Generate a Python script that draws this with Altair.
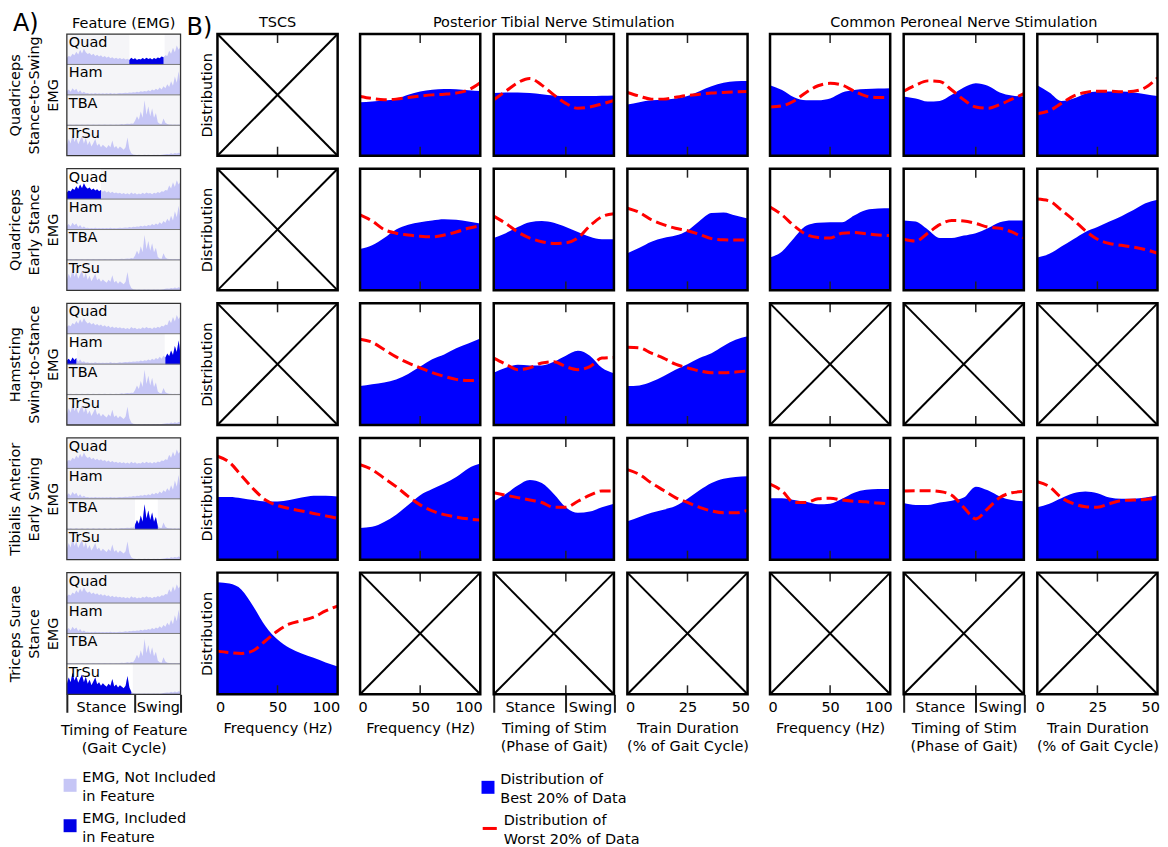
import altair as alt
import pandas as pd

FONT = "DejaVu Sans"
FS = 14.5
BLUE = "#0000ff"
RED = "#ff0000"
EMG_LIGHT = "#c6c6f6"
EMG_DARK = "#0000e6"
EMG_BG = "#f5f5f8"

B_W, B_H = 120.5, 122
EMG_W, EMG_H = 114, 122

# ---------------- data ----------------
X_GRID = [0.0, 0.1, 0.2, 0.3, 0.4, 0.5, 0.6, 0.7, 0.8, 0.9, 1.0]

BEST_R1_C2 = [0.44, 0.446, 0.454, 0.465, 0.50, 0.527, 0.543, 0.548, 0.546, 0.538, 0.532]
WORST_R1_C2 = [0.487, 0.47, 0.46, 0.465, 0.478, 0.49, 0.50, 0.505, 0.515, 0.54, 0.60]
BEST_R1_C3 = [0.515, 0.52, 0.52, 0.515, 0.505, 0.495, 0.49, 0.49, 0.49, 0.492, 0.495]
WORST_R1_C3 = [0.46, 0.53, 0.60, 0.635, 0.58, 0.50, 0.43, 0.39, 0.40, 0.425, 0.455]
BEST_R1_C4 = [0.42, 0.44, 0.455, 0.46, 0.47, 0.49, 0.53, 0.57, 0.60, 0.612, 0.615]
WORST_R1_C4 = [0.52, 0.49, 0.465, 0.465, 0.48, 0.495, 0.505, 0.515, 0.52, 0.525, 0.527]
BEST_R1_C5 = [0.58, 0.54, 0.48, 0.455, 0.455, 0.47, 0.52, 0.54, 0.548, 0.552, 0.555]
WORST_R1_C5 = [0.40, 0.41, 0.45, 0.52, 0.575, 0.595, 0.58, 0.53, 0.49, 0.478, 0.478]
BEST_R1_C6 = [0.487, 0.47, 0.445, 0.45, 0.50, 0.56, 0.595, 0.575, 0.52, 0.495, 0.487]
WORST_R1_C6 = [0.53, 0.58, 0.615, 0.61, 0.54, 0.46, 0.40, 0.39, 0.42, 0.465, 0.51]
BEST_R1_C7 = [0.58, 0.52, 0.45, 0.47, 0.51, 0.527, 0.527, 0.527, 0.52, 0.505, 0.49]
WORST_R1_C7 = [0.345, 0.37, 0.43, 0.49, 0.52, 0.53, 0.53, 0.525, 0.53, 0.56, 0.64]

BEST_R2_C2 = [0.34, 0.37, 0.43, 0.50, 0.54, 0.56, 0.575, 0.585, 0.58, 0.565, 0.55]
WORST_R2_C2 = [0.62, 0.57, 0.50, 0.47, 0.455, 0.445, 0.44, 0.455, 0.48, 0.51, 0.53]
BEST_R2_C3 = [0.43, 0.47, 0.52, 0.56, 0.57, 0.555, 0.52, 0.48, 0.44, 0.42, 0.42]
WORST_R2_C3 = [0.61, 0.55, 0.48, 0.43, 0.40, 0.385, 0.39, 0.43, 0.53, 0.605, 0.63]
BEST_R2_C4 = [0.305, 0.35, 0.40, 0.43, 0.45, 0.49, 0.57, 0.635, 0.64, 0.615, 0.59]
WORST_R2_C4 = [0.675, 0.64, 0.58, 0.54, 0.51, 0.49, 0.46, 0.425, 0.415, 0.413, 0.413]
BEST_R2_C5 = [0.27, 0.32, 0.43, 0.53, 0.555, 0.56, 0.56, 0.615, 0.66, 0.672, 0.675]
WORST_R2_C5 = [0.685, 0.62, 0.53, 0.46, 0.435, 0.43, 0.47, 0.475, 0.465, 0.455, 0.45]
BEST_R2_C6 = [0.575, 0.565, 0.50, 0.43, 0.43, 0.45, 0.47, 0.51, 0.56, 0.575, 0.575]
WORST_R2_C6 = [0.42, 0.405, 0.47, 0.54, 0.575, 0.57, 0.55, 0.52, 0.51, 0.48, 0.43]
BEST_R2_C7 = [0.27, 0.30, 0.36, 0.42, 0.48, 0.52, 0.565, 0.61, 0.66, 0.715, 0.745]
WORST_R2_C7 = [0.75, 0.735, 0.66, 0.58, 0.49, 0.42, 0.385, 0.37, 0.355, 0.335, 0.305]

BEST_R3_C2 = [0.32, 0.335, 0.35, 0.375, 0.42, 0.48, 0.54, 0.58, 0.63, 0.67, 0.71]
WORST_R3_C2 = [0.705, 0.68, 0.62, 0.56, 0.51, 0.47, 0.43, 0.40, 0.375, 0.365, 0.365]
BEST_R3_C3 = [0.43, 0.47, 0.495, 0.49, 0.49, 0.52, 0.57, 0.61, 0.57, 0.47, 0.425]
WORST_R3_C3 = [0.55, 0.50, 0.455, 0.47, 0.51, 0.52, 0.48, 0.455, 0.48, 0.55, 0.555]
BEST_R3_C4 = [0.32, 0.325, 0.355, 0.40, 0.455, 0.50, 0.55, 0.59, 0.65, 0.70, 0.73]
WORST_R3_C4 = [0.64, 0.635, 0.59, 0.55, 0.50, 0.47, 0.445, 0.43, 0.43, 0.435, 0.445]

BEST_R4_C1 = [0.515, 0.515, 0.505, 0.49, 0.478, 0.478, 0.49, 0.51, 0.525, 0.525, 0.52]
WORST_R4_C1 = [0.85, 0.80, 0.69, 0.58, 0.49, 0.445, 0.42, 0.40, 0.38, 0.36, 0.34]
BEST_R4_C2 = [0.26, 0.27, 0.31, 0.37, 0.45, 0.53, 0.58, 0.625, 0.68, 0.75, 0.79]
WORST_R4_C2 = [0.78, 0.74, 0.67, 0.60, 0.52, 0.45, 0.40, 0.37, 0.35, 0.335, 0.325]
BEST_R4_C3 = [0.48, 0.54, 0.61, 0.655, 0.63, 0.54, 0.43, 0.385, 0.395, 0.43, 0.46]
WORST_R4_C3 = [0.55, 0.53, 0.51, 0.49, 0.47, 0.43, 0.43, 0.48, 0.53, 0.565, 0.565]
BEST_R4_C4 = [0.315, 0.35, 0.385, 0.41, 0.44, 0.50, 0.57, 0.63, 0.665, 0.68, 0.685]
WORST_R4_C4 = [0.74, 0.70, 0.63, 0.57, 0.51, 0.47, 0.43, 0.40, 0.385, 0.385, 0.405]
BEST_R4_C5 = [0.505, 0.505, 0.49, 0.475, 0.455, 0.46, 0.50, 0.55, 0.575, 0.58, 0.58]
WORST_R4_C5 = [0.62, 0.565, 0.47, 0.47, 0.50, 0.505, 0.49, 0.48, 0.475, 0.465, 0.46]
BEST_R4_C6 = [0.465, 0.45, 0.45, 0.47, 0.485, 0.51, 0.60, 0.57, 0.52, 0.49, 0.48]
WORST_R4_C6 = [0.565, 0.567, 0.567, 0.56, 0.53, 0.43, 0.335, 0.42, 0.51, 0.55, 0.56]
BEST_R4_C7 = [0.43, 0.46, 0.505, 0.545, 0.56, 0.545, 0.51, 0.50, 0.50, 0.51, 0.53]
WORST_R4_C7 = [0.64, 0.60, 0.51, 0.46, 0.435, 0.43, 0.46, 0.485, 0.49, 0.495, 0.505]

BEST_R5_C1 = [0.92, 0.91, 0.86, 0.72, 0.56, 0.45, 0.38, 0.335, 0.30, 0.262, 0.228]
WORST_R5_C1 = [0.355, 0.343, 0.336, 0.36, 0.44, 0.52, 0.578, 0.605, 0.635, 0.685, 0.725]

# EMG envelopes (fraction of strip height), sampled evenly across the gait cycle
QUAD = [0.22, 0.28, 0.25, 0.35, 0.30, 0.42, 0.33, 0.48, 0.36, 0.52, 0.40,
        0.34, 0.38, 0.30, 0.35, 0.28, 0.32, 0.26, 0.30, 0.24, 0.28,
        0.22, 0.26, 0.20, 0.24, 0.19, 0.22, 0.18, 0.21, 0.17, 0.20,
        0.16, 0.19, 0.15, 0.22, 0.17, 0.20, 0.15, 0.18, 0.16, 0.21,
        0.17, 0.22, 0.18, 0.20, 0.16, 0.21, 0.18, 0.23, 0.20, 0.26,
        0.24, 0.30, 0.28, 0.45, 0.35, 0.55, 0.40, 0.62, 0.48, 0.58]
HAM = [0.12, 0.18, 0.10, 0.22, 0.14, 0.20, 0.08, 0.15, 0.06, 0.10, 0.05,
       0.06, 0.04, 0.05, 0.04, 0.06, 0.04, 0.05, 0.04, 0.05, 0.04,
       0.05, 0.04, 0.06, 0.04, 0.05, 0.04, 0.05, 0.06, 0.05, 0.06,
       0.07, 0.06, 0.08, 0.07, 0.09, 0.08, 0.10, 0.09, 0.12, 0.10,
       0.13, 0.11, 0.15, 0.12, 0.18, 0.14, 0.20, 0.16, 0.24, 0.18,
       0.28, 0.22, 0.35, 0.26, 0.45, 0.30, 0.60, 0.40, 0.78, 0.30]
TBA = [0.03, 0.02, 0.03, 0.02, 0.02, 0.03, 0.02, 0.02, 0.03, 0.02, 0.02,
       0.03, 0.02, 0.02, 0.03, 0.02, 0.02, 0.03, 0.02, 0.02, 0.03,
       0.02, 0.02, 0.03, 0.02, 0.02, 0.03, 0.02, 0.03, 0.04, 0.03,
       0.04, 0.05, 0.04, 0.06, 0.05, 0.15, 0.30, 0.18, 0.45, 0.25,
       0.82, 0.35, 0.62, 0.30, 0.55, 0.25, 0.40, 0.10, 0.05, 0.04,
       0.22, 0.08, 0.04, 0.03, 0.03, 0.02, 0.03, 0.02, 0.03, 0.02]
TRSU = [0.35, 0.55, 0.40, 0.72, 0.45, 0.60, 0.38, 0.52, 0.65, 0.40, 0.58,
        0.35, 0.48, 0.30, 0.42, 0.55, 0.33, 0.40, 0.28, 0.36, 0.30,
        0.25, 0.35, 0.28, 0.50, 0.26, 0.32, 0.22, 0.30, 0.25, 0.20,
        0.28, 0.60, 0.22, 0.08, 0.04, 0.03, 0.02, 0.03, 0.02, 0.02,
        0.03, 0.02, 0.03, 0.02, 0.02, 0.03, 0.02, 0.03, 0.02, 0.03,
        0.04, 0.05, 0.06, 0.05, 0.08, 0.06, 0.09, 0.07, 0.10, 0.08]
MUSCLES = ["Quad", "Ham", "TBA", "TrSu"]
SIGNALS = [QUAD, HAM, TBA, TRSU]

ROW_LABELS = [["Quadriceps", "Stance-to-Swing", "EMG"],
              ["Quadriceps", "Early Stance", "EMG"],
              ["Hamstring", "Swing-to-Stance", "EMG"],
              ["Tibialis Anterior", "Early Swing", "EMG"],
              ["Triceps Surae", "Stance", "EMG"]]
HIGHLIGHTS = [[("Quad", 0.55, 0.86)],
              [("Quad", 0.0, 0.30)],
              [("Ham", 0.0, 0.09), ("Ham", 0.86, 1.0)],
              [("TBA", 0.60, 0.80)],
              [("TrSu", 0.0, 0.58)]]

COL_KIND = ["freq", "freq", "timing", "dur", "freq", "timing", "dur"]
XMAX = {"freq": 100, "timing": 1.0, "dur": 50}
XMID = {"freq": 50, "timing": 0.6, "dur": 25}
X_TITLES = {"freq": "Frequency (Hz)",
            "timing": ["Timing of Stim", "(Phase of Gait)"],
            "dur": ["Train Duration", "(% of Gait Cycle)"]}
X_VALUES = {"freq": [0, 50, 100], "dur": [0, 25, 50]}
GAIT_VALUES = [0, 0.3, 0.6, 0.8, 1.0]
TOP_TITLES = {0: "TSCS", 2: "Posterior Tibial Nerve Stimulation",
              5: "Common Peroneal Nerve Stimulation"}

PANELS = {
    (0, 1): (BEST_R1_C2, WORST_R1_C2), (0, 2): (BEST_R1_C3, WORST_R1_C3),
    (0, 3): (BEST_R1_C4, WORST_R1_C4), (0, 4): (BEST_R1_C5, WORST_R1_C5),
    (0, 5): (BEST_R1_C6, WORST_R1_C6), (0, 6): (BEST_R1_C7, WORST_R1_C7),
    (1, 1): (BEST_R2_C2, WORST_R2_C2), (1, 2): (BEST_R2_C3, WORST_R2_C3),
    (1, 3): (BEST_R2_C4, WORST_R2_C4), (1, 4): (BEST_R2_C5, WORST_R2_C5),
    (1, 5): (BEST_R2_C6, WORST_R2_C6), (1, 6): (BEST_R2_C7, WORST_R2_C7),
    (2, 1): (BEST_R3_C2, WORST_R3_C2), (2, 2): (BEST_R3_C3, WORST_R3_C3),
    (2, 3): (BEST_R3_C4, WORST_R3_C4),
    (3, 0): (BEST_R4_C1, WORST_R4_C1), (3, 1): (BEST_R4_C2, WORST_R4_C2),
    (3, 2): (BEST_R4_C3, WORST_R4_C3), (3, 3): (BEST_R4_C4, WORST_R4_C4),
    (3, 4): (BEST_R4_C5, WORST_R4_C5), (3, 5): (BEST_R4_C6, WORST_R4_C6),
    (3, 6): (BEST_R4_C7, WORST_R4_C7),
    (4, 0): (BEST_R5_C1, WORST_R5_C1),
}

EMG_LEG_LABELS = ["EMG, Not Included|in Feature", "EMG, Included|in Feature"]
BEST_LABEL = "Distribution of|Best 20% of Data"
WORST_LABEL = "Distribution of|Worst 20% of Data"

# gaps (px) between plot areas: after EMG, after TSCS, within groups, between groups
GAPS = [37, 22, 13, 13, 22, 13, 13]

TITLE_KW = dict(baseline="bottom", offset=4, dy=16, fontSize=FS, fontWeight="normal", font=FONT)


def gait_axis(title, title_y):
    return alt.Axis(
        values=GAIT_VALUES,
        labelExpr="datum.value == 0.3 ? 'Stance' : (datum.value == 0.8 ? 'Swing' : '')",
        tickColor={"condition": {"test": "datum.value == 0.3 || datum.value == 0.8",
                                 "value": "transparent"}, "value": "#222222"},
        tickSize=18, tickWidth=2, domain=False, grid=False,
        labelPadding=-12, labelFlush=False, labelOverlap=False,
        labelFontSize=FS, labelColor="black",
        title=title, titleY=title_y, titleBaseline="top", titleLineHeight=18.5,
        titleFontSize=FS, titleFontWeight="normal", titleColor="black")


def num_axis(kind):
    return alt.Axis(
        values=X_VALUES[kind], format="d", ticks=False, domain=False, grid=False,
        labelPadding=6, labelFlush=True, labelFlushOffset=2, labelOverlap=False,
        labelFontSize=FS, labelColor="black",
        title=X_TITLES[kind], titleY=27, titleBaseline="top", titleLineHeight=18.5,
        titleFontSize=FS, titleFontWeight="normal", titleColor="black")


def dist_panel(r, c):
    kind = COL_KIND[c]
    xmax = XMAX[kind]
    mid = XMID[kind]
    xs = alt.Scale(domain=[0, xmax], nice=False, zero=False)
    ys = alt.Scale(domain=[0, 1], nice=False, zero=False)
    if r == 4:
        xaxis = gait_axis(X_TITLES[kind], 27) if kind == "timing" else num_axis(kind)
    else:
        xaxis = None
    if c == 0:
        yaxis = alt.Axis(title="Distribution", labels=False, ticks=False, domain=False,
                         grid=False, minExtent=0, titleX=-5.5, titleY=B_H / 2,
                         titleAngle=270, titleAlign="center", titleBaseline="alphabetic",
                         titleFontSize=FS, titleFontWeight="normal", titleColor="black")
    else:
        yaxis = None

    def X(f="x"):
        return alt.X(f"{f}:Q", scale=xs, axis=xaxis)

    def Y(f="y"):
        return alt.Y(f"{f}:Q", scale=ys, axis=yaxis)

    layers = []
    if (r, c) in PANELS:
        best, worst = PANELS[(r, c)]
        df = pd.DataFrame({"x": [g * xmax for g in X_GRID], "y": best, "w": worst})
        layers.append(alt.Chart(df).mark_area(color=BLUE, interpolate="monotone", clip=True)
                      .encode(x=X(), y=Y()))
        layers.append(alt.Chart(df).mark_line(color=RED, strokeWidth=3, strokeDash=[11, 5],
                                              interpolate="monotone", clip=True)
                      .encode(x=X(), y=Y("w")))
    else:
        diag = pd.DataFrame({"x": [0, 0], "x2": [xmax, xmax], "y": [0, 1], "y2": [1, 0]})
        layers.append(alt.Chart(diag).mark_rule(color="black", strokeWidth=2)
                      .encode(x=X(), x2="x2:Q", y=Y(), y2="y2:Q"))
    tk = pd.DataFrame({"x": [mid]})
    layers.append(alt.Chart(tk).mark_rule(color="#222222", strokeWidth=1.5)
                  .encode(x=X(), y=alt.value(0), y2=alt.value(9)))
    layers.append(alt.Chart(tk).mark_rule(color="#222222", strokeWidth=1.5)
                  .encode(x=X(), y=alt.value(B_H - 9), y2=alt.value(B_H)))
    fr = pd.DataFrame({"x": [0], "x2": [xmax], "y": [0], "y2": [1]})
    layers.append(alt.Chart(fr).mark_rect(fillOpacity=0, stroke="black", strokeWidth=2.5)
                  .encode(x=X(), x2="x2:Q", y=Y(), y2="y2:Q"))
    ch = alt.layer(*layers).properties(width=B_W, height=B_H)
    if r == 0 and c in TOP_TITLES:
        ch = ch.properties(title=alt.TitleParams(TOP_TITLES[c], **TITLE_KW))
    return ch


def emg_panel(r):
    xs = alt.Scale(domain=[0, 1], nice=False, zero=False)
    ys = alt.Scale(domain=[0, 4], nice=False, zero=False)
    xaxis = gait_axis(["Timing of Feature", "(Gait Cycle)"], 29) if r == 4 else None
    yaxis = alt.Axis(title=ROW_LABELS[r], labels=False, ticks=False, domain=False, grid=False,
                     minExtent=0, titleX=-47, titleY=EMG_H / 2, titleAngle=270,
                     titleAlign="center", titleBaseline="alphabetic", titleLineHeight=19,
                     titleFontSize=FS, titleFontWeight="normal", titleColor="black")

    def X(f="x"):
        return alt.X(f"{f}:Q", scale=xs, axis=xaxis)

    def Y(f="y"):
        return alt.Y(f"{f}:Q", scale=ys, axis=yaxis)

    n = len(QUAD)
    xgrid = [i / (n - 1) for i in range(n)]
    bg = pd.DataFrame({"x": [0], "x2": [1], "y": [0], "y2": [4]})
    hl_rows, sig_rows, dark_rows, lab_rows = [], [], [], []
    for seg, (m, lo, hi) in enumerate(HIGHLIGHTS[r]):
        base = 3 - MUSCLES.index(m)
        hl_rows.append({"x": lo, "x2": hi, "y": base, "y2": base + 1})
        sig = SIGNALS[MUSCLES.index(m)]
        for xv, v in zip(xgrid, sig):
            if lo - 1e-9 <= xv <= hi + 1e-9:
                dark_rows.append({"x": xv, "y": base + v, "y2": base, "g": f"{m}{seg}"})
    for k, (m, sig) in enumerate(zip(MUSCLES, SIGNALS)):
        base = 3 - k
        lab_rows.append({"x": 0, "y": base + 1, "t": m})
        for xv, v in zip(xgrid, sig):
            sig_rows.append({"x": xv, "y": base + v, "y2": base, "m": m})
    sep = pd.DataFrame({"x": [0, 0, 0], "x2": [1, 1, 1], "y": [1, 2, 3]})

    layers = [
        alt.Chart(bg).mark_rect(color=EMG_BG).encode(x=X(), x2="x2:Q", y=Y(), y2="y2:Q"),
        alt.Chart(pd.DataFrame(hl_rows)).mark_rect(color="white")
        .encode(x=X(), x2="x2:Q", y=Y(), y2="y2:Q"),
        alt.Chart(pd.DataFrame(sig_rows)).mark_area(color=EMG_LIGHT, interpolate="linear")
        .encode(x=X(), y=Y(), y2="y2:Q", detail="m:N"),
        alt.Chart(pd.DataFrame(dark_rows)).mark_area(color=EMG_DARK, interpolate="linear")
        .encode(x=X(), y=Y(), y2="y2:Q", detail="g:N"),
        alt.Chart(sep).mark_rule(color="#7a7a7a", strokeWidth=1)
        .encode(x=X(), x2="x2:Q", y=Y()),
        alt.Chart(pd.DataFrame(lab_rows)).mark_text(align="left", baseline="top", dx=2, dy=2,
                                                    fontSize=FS, color="black", font=FONT)
        .encode(x=X(), y=Y(), text="t:N"),
        alt.Chart(bg).mark_rect(fillOpacity=0, stroke="#333333", strokeWidth=1.3)
        .encode(x=X(), x2="x2:Q", y=Y(), y2="y2:Q"),
    ]
    ch = alt.layer(*layers).properties(width=EMG_W, height=EMG_H)
    if r == 0:
        ch = ch.properties(title=alt.TitleParams("Feature (EMG)", **TITLE_KW))
    return ch


def spacer(w, title=None):
    ch = alt.Chart(pd.DataFrame({"a": [0]})).mark_point(opacity=0).properties(width=w, height=B_H)
    if title is not None:
        ch = ch.properties(title=title)
    return ch


items = []
for r in range(5):
    items.append(emg_panel(r))
    for c in range(7):
        if r == 0 and c == 0:
            items.append(spacer(GAPS[c], alt.TitleParams("B)", anchor="start", fontSize=24,
                                                         fontWeight="normal",
                                                         baseline="alphabetic", offset=-8,
                                                         dx=6, dy=17, font=FONT)))
        else:
            items.append(spacer(GAPS[c]))
        items.append(dist_panel(r, c))

# legends are positioned relative to the top-left of the first EMG panel
LEG_COMMON = dict(title=None, orient="none", labelExpr="split(datum.label, '|')",
                  labelFontSize=FS, labelColor="black", labelLimit=0, labelBaseline="bottom",
                  labelOffset=5, padding=0, rowPadding=6.5, symbolOpacity=1, labelFont=FONT)
emg_leg = alt.Chart(pd.DataFrame({"lab": EMG_LEG_LABELS})).mark_square(opacity=0).encode(
    color=alt.Color("lab:N", scale=alt.Scale(domain=EMG_LEG_LABELS, range=[EMG_LIGHT, EMG_DARK]),
                    legend=alt.Legend(legendX=-4, legendY=746, symbolType="square",
                                      symbolSize=169, symbolStrokeWidth=0, **LEG_COMMON)))
best_leg = alt.Chart(pd.DataFrame({"lab": [BEST_LABEL]})).mark_square(opacity=0).encode(
    fill=alt.Fill("lab:N", scale=alt.Scale(domain=[BEST_LABEL], range=[BLUE]),
                  legend=alt.Legend(legendX=415, legendY=748, symbolType="square",
                                    symbolSize=169, symbolStrokeWidth=0, **LEG_COMMON)))
worst_leg = alt.Chart(pd.DataFrame({"lab": [WORST_LABEL]})).mark_line(opacity=0).encode(
    stroke=alt.Stroke("lab:N", scale=alt.Scale(domain=[WORST_LABEL], range=[RED]),
                      legend=alt.Legend(legendX=415, legendY=787.5, symbolType="stroke",
                                        symbolSize=200, symbolStrokeWidth=3, **LEG_COMMON)))
legend_chart = alt.layer(emg_leg, best_leg, worst_leg).properties(width=EMG_W, height=10)
items.append(legend_chart)

chart = alt.concat(*items, columns=15, spacing={"row": 13, "column": 0},
                   bounds="flush").properties(
    title=alt.TitleParams("A)", anchor="start", fontSize=24, fontWeight="normal",
                          baseline="alphabetic", offset=-17, dx=5, dy=23, font=FONT),
    padding={"left": 0, "top": 3, "right": 0, "bottom": 0},
).configure(
    font=FONT, style={"guide-label": {"lineHeight": 19}}
).configure_view(stroke=None).configure_axis(
    labelFont=FONT, titleFont=FONT
).configure_legend(labelFont=FONT)

chart.save("out.html", embed_options={"renderer": "svg", "actions": False})
